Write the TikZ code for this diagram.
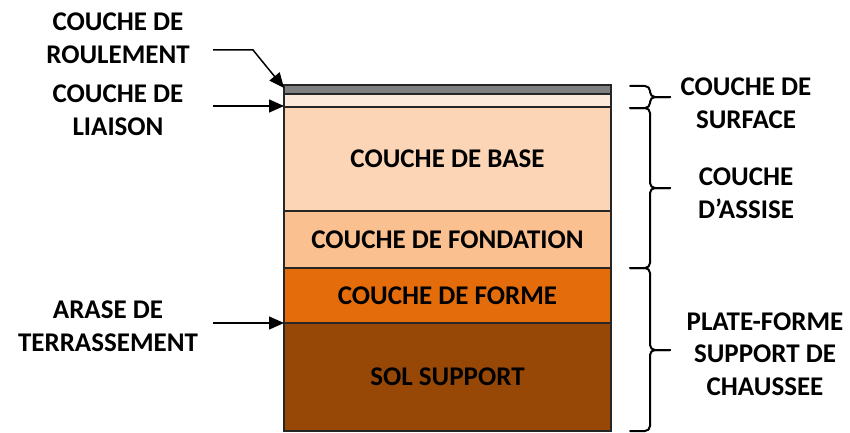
\documentclass[tikz,border=0pt]{standalone}
\usepackage{fontspec}
\setmainfont{Carlito}
\usetikzlibrary{positioning,arrows.meta}

\definecolor{roulement}{HTML}{7F7F7F}
\definecolor{liaison}{HTML}{FDE9D9}
\definecolor{base}{HTML}{FBD5B5}
\definecolor{fondation}{HTML}{FAC090}
\definecolor{forme}{HTML}{E46C0A}
\definecolor{sol}{HTML}{974806}

\newcommand{\txt}{\fontsize{27}{32.5}\selectfont\bfseries}
% accolade : haut, bas, milieu
\newcommand{\accolade}[3]{%
  \draw[accol] (630,#1) -- (645,#1) to[out=0,in=90] (650,#1-5) -- (650,#3+5)
    to[out=-90,in=180] (655,#3) -- (670,#3);
  \draw[accol] (670,#3) -- (655,#3) to[out=180,in=90] (650,#3-5) -- (650,#2+5)
    to[out=-90,in=0] (645,#2) -- (630,#2);
}

\tikzset{
  couche/.style={draw=black!85, line width=1.2pt, minimum width=327pt,
    inner sep=0pt, outer sep=0pt, font=\txt},
  legende/.style={align=center, font=\txt},
  fleche/.style={line width=1.5pt, -{Triangle[length=15pt,width=13pt]}},
  accol/.style={line width=2pt, line cap=round, line join=round}
}

\begin{document}
\begin{tikzpicture}[x=1pt,y=1pt]
  \useasboundingbox (0,0) rectangle (850,432);

  % couches de la chaussee
  \node[couche, fill=roulement, minimum height=9pt, anchor=north] (roul) at (447.5,347) {};
  \node[couche, fill=liaison, minimum height=13pt, below=0pt of roul] (liais) {};
  \node[couche, fill=base, minimum height=104pt, below=0pt of liais] (base) {COUCHE DE BASE};
  \node[couche, fill=fondation, minimum height=57pt, below=0pt of base] (fond) {COUCHE DE FONDATION};
  \node[couche, fill=forme, minimum height=55pt, below=0pt of fond] (forme) {COUCHE DE FORME};
  \node[couche, fill=sol, minimum height=108pt, below=0pt of forme] (sol) {SOL SUPPORT};

  % legendes a gauche
  \node[legende] (lroul) at (118,394) {COUCHE DE\\ROULEMENT};
  \node[legende] (lliais) at (118,322) {COUCHE DE\\LIAISON};
  \node[legende] (larase) at (108,106) {ARASE DE\\TERRASSEMENT};

  \coordinate (p1) at (213,382);
  \coordinate (p2) at (213,326);
  \coordinate (p3) at (213,109);
  \draw[fleche] (p1) -- ++(40,0) -- ([yshift=-3pt]roul.north west);
  \draw[fleche] (p2) -- (p2 -| liais.west);
  \draw[fleche] (p3) -- (forme.south west);

  % accolades a droite
  \accolade{346}{324}{335}
  \accolade{324}{164}{244}
  \accolade{164}{1}{82}

  \node[legende] (lsurf) at (746,329) {COUCHE DE\\SURFACE};
  \node[legende] (lassise) at (746,239) {COUCHE\\D’ASSISE};
  \node[legende] (lplate) at (765,78) {PLATE-FORME\\SUPPORT DE\\CHAUSSEE};
\end{tikzpicture}
\end{document}
